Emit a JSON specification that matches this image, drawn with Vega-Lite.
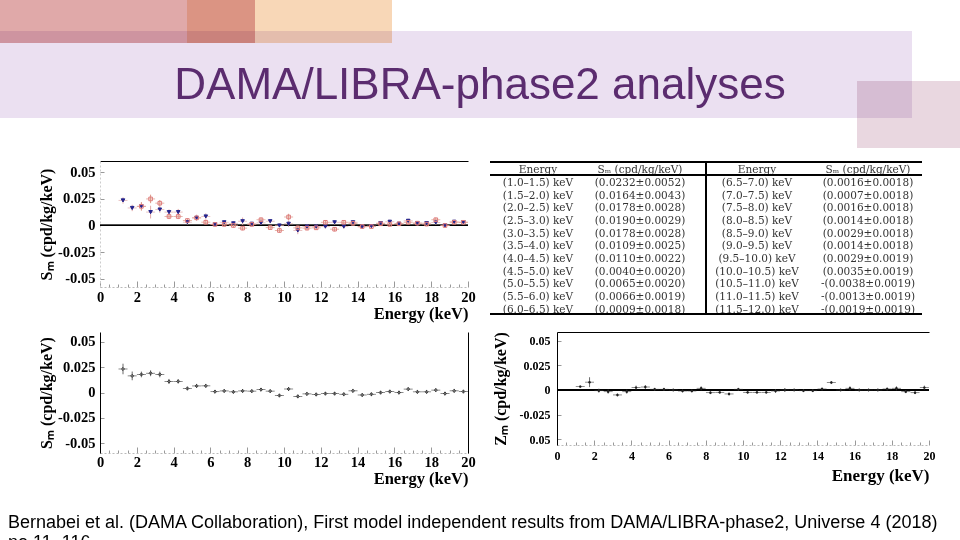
{
  "$schema": "https://vega.github.io/schema/vega-lite/v6.json",
  "padding": 0,
  "background": "white",
  "spacing": 1,
  "config": {"view": {"stroke": null}, "axis": {"grid": false}},
  "title": {
    "text": ["Bernabei et al. (DAMA Collaboration), First model independent results from DAMA/LIBRA-phase2, Universe 4 (2018)", "no.11, 116"],
    "orient": "bottom", "anchor": "start", "frame": "group", "offset": 41, "baseline": "alphabetic",
    "font": "Liberation Sans", "fontSize": 18, "fontWeight": "normal", "color": "#000", "lineHeight": 20, "dx": 8
  },
  "datasets": {
    "deco": [
      {"part": "rose", "x0": 0, "x1": 187, "y0": 0, "y1": 43},
      {"part": "salmon", "x0": 187, "x1": 255, "y0": 0, "y1": 43},
      {"part": "peach", "x0": 255, "x1": 392, "y0": 0, "y1": 43},
      {"part": "lavender", "x0": 0, "x1": 912, "y0": 31, "y1": 118},
      {"part": "pink", "x0": 857, "x1": 960, "y0": 81, "y1": 148}
    ],
    "sm_runs": [
      {"run": "phase2", "e": 1.25, "s": 0.0236, "err": 0.003},
      {"run": "phase2", "e": 1.75, "s": 0.0165, "err": 0.003},
      {"run": "phase2", "e": 2.25, "s": 0.018, "err": 0.0035},
      {"run": "phase2", "e": 2.75, "s": 0.0126, "err": 0.006},
      {"run": "phase2", "e": 3.25, "s": 0.015, "err": 0.003},
      {"run": "phase2", "e": 3.75, "s": 0.0126, "err": 0.0025},
      {"run": "phase2", "e": 4.25, "s": 0.0126, "err": 0.003},
      {"run": "phase2", "e": 4.75, "s": 0.0031, "err": 0.002},
      {"run": "phase2", "e": 5.25, "s": 0.0072, "err": 0.003},
      {"run": "phase2", "e": 5.75, "s": 0.0085, "err": 0.003},
      {"run": "phase2", "e": 6.25, "s": 0.001, "err": 0.002},
      {"run": "phase2", "e": 6.75, "s": 0.003, "err": 0.002},
      {"run": "phase2", "e": 7.25, "s": 0.002, "err": 0.002},
      {"run": "phase2", "e": 7.75, "s": 0.004, "err": 0.0035},
      {"run": "phase2", "e": 8.25, "s": 0.0016, "err": 0.002},
      {"run": "phase2", "e": 8.75, "s": 0.0025, "err": 0.002},
      {"run": "phase2", "e": 9.25, "s": 0.004, "err": 0.002},
      {"run": "phase2", "e": 9.75, "s": 0.0, "err": 0.002},
      {"run": "phase2", "e": 10.25, "s": 0.0016, "err": 0.003},
      {"run": "phase2", "e": 10.75, "s": -0.0047, "err": 0.0035},
      {"run": "phase2", "e": 11.25, "s": -0.001, "err": 0.002},
      {"run": "phase2", "e": 11.75, "s": -0.001, "err": 0.002},
      {"run": "phase2", "e": 12.25, "s": -0.001, "err": 0.002},
      {"run": "phase2", "e": 12.75, "s": 0.003, "err": 0.002},
      {"run": "phase2", "e": 13.25, "s": -0.001, "err": 0.002},
      {"run": "phase2", "e": 13.75, "s": 0.003, "err": 0.002},
      {"run": "phase2", "e": 14.25, "s": -0.0013, "err": 0.002},
      {"run": "phase2", "e": 14.75, "s": -0.0006, "err": 0.002},
      {"run": "phase2", "e": 15.25, "s": 0.0022, "err": 0.002},
      {"run": "phase2", "e": 15.75, "s": 0.0035, "err": 0.002},
      {"run": "phase2", "e": 16.25, "s": 0.0016, "err": 0.002},
      {"run": "phase2", "e": 16.75, "s": 0.0044, "err": 0.002},
      {"run": "phase2", "e": 17.25, "s": 0.0022, "err": 0.002},
      {"run": "phase2", "e": 17.75, "s": 0.0022, "err": 0.002},
      {"run": "phase2", "e": 18.25, "s": 0.0028, "err": 0.002},
      {"run": "phase2", "e": 18.75, "s": 0.0, "err": 0.002},
      {"run": "phase2", "e": 19.25, "s": 0.0035, "err": 0.002},
      {"run": "phase2", "e": 19.75, "s": 0.003, "err": 0.002},
      {"run": "phase1", "e": 2.25, "s": 0.018, "err": 0.004},
      {"run": "phase1", "e": 2.75, "s": 0.025, "err": 0.004},
      {"run": "phase1", "e": 3.25, "s": 0.021, "err": 0.003},
      {"run": "phase1", "e": 3.75, "s": 0.0085, "err": 0.0025},
      {"run": "phase1", "e": 4.25, "s": 0.0085, "err": 0.0025},
      {"run": "phase1", "e": 4.75, "s": 0.0047, "err": 0.002},
      {"run": "phase1", "e": 5.25, "s": 0.0072, "err": 0.002},
      {"run": "phase1", "e": 5.75, "s": 0.0031, "err": 0.002},
      {"run": "phase1", "e": 6.25, "s": 0.001, "err": 0.002},
      {"run": "phase1", "e": 6.75, "s": 0.001, "err": 0.002},
      {"run": "phase1", "e": 7.25, "s": 0.0, "err": 0.002},
      {"run": "phase1", "e": 7.75, "s": -0.0025, "err": 0.002},
      {"run": "phase1", "e": 8.25, "s": 0.001, "err": 0.002},
      {"run": "phase1", "e": 8.75, "s": 0.0054, "err": 0.002},
      {"run": "phase1", "e": 9.25, "s": -0.002, "err": 0.002},
      {"run": "phase1", "e": 9.75, "s": -0.0047, "err": 0.002},
      {"run": "phase1", "e": 10.25, "s": 0.008, "err": 0.003},
      {"run": "phase1", "e": 10.75, "s": -0.0022, "err": 0.002},
      {"run": "phase1", "e": 11.25, "s": -0.0025, "err": 0.002},
      {"run": "phase1", "e": 11.75, "s": -0.0022, "err": 0.002},
      {"run": "phase1", "e": 12.25, "s": 0.003, "err": 0.002},
      {"run": "phase1", "e": 12.75, "s": -0.0035, "err": 0.002},
      {"run": "phase1", "e": 13.25, "s": 0.003, "err": 0.002},
      {"run": "phase1", "e": 13.75, "s": 0.002, "err": 0.002},
      {"run": "phase1", "e": 14.25, "s": -0.001, "err": 0.002},
      {"run": "phase1", "e": 14.75, "s": -0.001, "err": 0.002},
      {"run": "phase1", "e": 15.25, "s": 0.0016, "err": 0.002},
      {"run": "phase1", "e": 15.75, "s": 0.001, "err": 0.002},
      {"run": "phase1", "e": 16.25, "s": 0.0016, "err": 0.002},
      {"run": "phase1", "e": 16.75, "s": 0.003, "err": 0.002},
      {"run": "phase1", "e": 17.25, "s": 0.0022, "err": 0.002},
      {"run": "phase1", "e": 17.75, "s": 0.0013, "err": 0.002},
      {"run": "phase1", "e": 18.25, "s": 0.0054, "err": 0.002},
      {"run": "phase1", "e": 18.75, "s": 0.0, "err": 0.002},
      {"run": "phase1", "e": 19.25, "s": 0.003, "err": 0.002},
      {"run": "phase1", "e": 19.75, "s": 0.003, "err": 0.002}
    ],
    "sm_all": [
      {"e": 1.25, "s": 0.0232, "err": 0.0052},
      {"e": 1.75, "s": 0.0164, "err": 0.0043},
      {"e": 2.25, "s": 0.0178, "err": 0.0028},
      {"e": 2.75, "s": 0.019, "err": 0.0029},
      {"e": 3.25, "s": 0.0178, "err": 0.0028},
      {"e": 3.75, "s": 0.0109, "err": 0.0025},
      {"e": 4.25, "s": 0.011, "err": 0.0022},
      {"e": 4.75, "s": 0.004, "err": 0.002},
      {"e": 5.25, "s": 0.0065, "err": 0.002},
      {"e": 5.75, "s": 0.0066, "err": 0.0019},
      {"e": 6.25, "s": 0.0009, "err": 0.0018},
      {"e": 6.75, "s": 0.0016, "err": 0.0018},
      {"e": 7.25, "s": 0.0007, "err": 0.0018},
      {"e": 7.75, "s": 0.0016, "err": 0.0018},
      {"e": 8.25, "s": 0.0014, "err": 0.0018},
      {"e": 8.75, "s": 0.0029, "err": 0.0018},
      {"e": 9.25, "s": 0.0014, "err": 0.0018},
      {"e": 9.75, "s": -0.0029, "err": 0.0019},
      {"e": 10.25, "s": 0.0035, "err": 0.0019},
      {"e": 10.75, "s": -0.0038, "err": 0.0019},
      {"e": 11.25, "s": -0.0013, "err": 0.0019},
      {"e": 11.75, "s": -0.0019, "err": 0.0019},
      {"e": 12.25, "s": -0.001, "err": 0.0019},
      {"e": 12.75, "s": -0.001, "err": 0.0019},
      {"e": 13.25, "s": -0.0017, "err": 0.0019},
      {"e": 13.75, "s": 0.0017, "err": 0.0019},
      {"e": 14.25, "s": -0.0024, "err": 0.0019},
      {"e": 14.75, "s": -0.0017, "err": 0.0019},
      {"e": 15.25, "s": 0.0, "err": 0.0019},
      {"e": 15.75, "s": 0.001, "err": 0.0019},
      {"e": 16.25, "s": 0.0, "err": 0.0019},
      {"e": 16.75, "s": 0.0034, "err": 0.0019},
      {"e": 17.25, "s": 0.0007, "err": 0.0019},
      {"e": 17.75, "s": 0.0007, "err": 0.0019},
      {"e": 18.25, "s": 0.0024, "err": 0.0019},
      {"e": 18.75, "s": -0.001, "err": 0.0019},
      {"e": 19.25, "s": 0.0017, "err": 0.0019},
      {"e": 19.75, "s": 0.001, "err": 0.0019}
    ],
    "zm": [
      {"e": 1.25, "z": 0.0034, "err": 0.0012},
      {"e": 1.75, "z": 0.0079, "err": 0.005},
      {"e": 2.25, "z": -0.0007, "err": 0.002},
      {"e": 2.75, "z": -0.0017, "err": 0.002},
      {"e": 3.25, "z": -0.005, "err": 0.0015},
      {"e": 3.75, "z": -0.0017, "err": 0.002},
      {"e": 4.25, "z": 0.0024, "err": 0.002},
      {"e": 4.75, "z": 0.003, "err": 0.002},
      {"e": 5.25, "z": 0.0007, "err": 0.0015},
      {"e": 5.75, "z": 0.0007, "err": 0.0015},
      {"e": 6.25, "z": 0.0, "err": 0.0015},
      {"e": 6.75, "z": -0.001, "err": 0.0015},
      {"e": 7.25, "z": -0.001, "err": 0.0015},
      {"e": 7.75, "z": 0.0017, "err": 0.002},
      {"e": 8.25, "z": -0.0027, "err": 0.0015},
      {"e": 8.75, "z": -0.0024, "err": 0.0015},
      {"e": 9.25, "z": -0.004, "err": 0.0015},
      {"e": 9.75, "z": 0.0007, "err": 0.0015},
      {"e": 10.25, "z": -0.0024, "err": 0.0015},
      {"e": 10.75, "z": -0.0024, "err": 0.0015},
      {"e": 11.25, "z": -0.0024, "err": 0.0015},
      {"e": 11.75, "z": -0.001, "err": 0.002},
      {"e": 12.25, "z": 0.0, "err": 0.002},
      {"e": 12.75, "z": 0.0, "err": 0.0015},
      {"e": 13.25, "z": -0.0007, "err": 0.0015},
      {"e": 13.75, "z": -0.0007, "err": 0.0015},
      {"e": 14.25, "z": 0.001, "err": 0.0015},
      {"e": 14.75, "z": 0.0075, "err": 0.0015},
      {"e": 15.25, "z": 0.0, "err": 0.0015},
      {"e": 15.75, "z": 0.0017, "err": 0.002},
      {"e": 16.25, "z": 0.0, "err": 0.0015},
      {"e": 16.75, "z": 0.0, "err": 0.0015},
      {"e": 17.25, "z": 0.0, "err": 0.0015},
      {"e": 17.75, "z": 0.001, "err": 0.0015},
      {"e": 18.25, "z": 0.0017, "err": 0.002},
      {"e": 18.75, "z": -0.0017, "err": 0.0015},
      {"e": 19.25, "z": -0.0027, "err": 0.0015},
      {"e": 19.75, "z": 0.0024, "err": 0.002}
    ],
    "table": [
      {"row": 0, "e1": "Energy", "s1": "Sₘ (cpd/kg/keV)", "e2": "Energy", "s2": "Sₘ (cpd/kg/keV)"},
      {"row": 1, "e1": "(1.0–1.5) keV", "s1": "(0.0232±0.0052)", "e2": "(6.5–7.0) keV", "s2": "(0.0016±0.0018)"},
      {"row": 2, "e1": "(1.5–2.0) keV", "s1": "(0.0164±0.0043)", "e2": "(7.0–7.5) keV", "s2": "(0.0007±0.0018)"},
      {"row": 3, "e1": "(2.0–2.5) keV", "s1": "(0.0178±0.0028)", "e2": "(7.5–8.0) keV", "s2": "(0.0016±0.0018)"},
      {"row": 4, "e1": "(2.5–3.0) keV", "s1": "(0.0190±0.0029)", "e2": "(8.0–8.5) keV", "s2": "(0.0014±0.0018)"},
      {"row": 5, "e1": "(3.0–3.5) keV", "s1": "(0.0178±0.0028)", "e2": "(8.5–9.0) keV", "s2": "(0.0029±0.0018)"},
      {"row": 6, "e1": "(3.5–4.0) keV", "s1": "(0.0109±0.0025)", "e2": "(9.0–9.5) keV", "s2": "(0.0014±0.0018)"},
      {"row": 7, "e1": "(4.0–4.5) keV", "s1": "(0.0110±0.0022)", "e2": "(9.5–10.0) keV", "s2": "(0.0029±0.0019)"},
      {"row": 8, "e1": "(4.5–5.0) keV", "s1": "(0.0040±0.0020)", "e2": "(10.0–10.5) keV", "s2": "(0.0035±0.0019)"},
      {"row": 9, "e1": "(5.0–5.5) keV", "s1": "(0.0065±0.0020)", "e2": "(10.5–11.0) keV", "s2": "-(0.0038±0.0019)"},
      {"row": 10, "e1": "(5.5–6.0) keV", "s1": "(0.0066±0.0019)", "e2": "(11.0–11.5) keV", "s2": "-(0.0013±0.0019)"},
      {"row": 11, "e1": "(6.0–6.5) keV", "s1": "(0.0009±0.0018)", "e2": "(11.5–12.0) keV", "s2": "-(0.0019±0.0019)"}
    ]
  },
  "vconcat": [
    {
      "width": 960, "height": 159,
      "data": {"name": "deco"},
      "layer": [
        {
          "mark": {"type": "rect", "blend": "multiply"},
          "encoding": {
            "x": {"field": "x0", "type": "quantitative", "scale": {"domain": [0, 960], "nice": false, "zero": false}, "axis": null},
            "x2": {"field": "x1"},
            "y": {"field": "y0", "type": "quantitative", "scale": {"domain": [0, 159], "reverse": true, "nice": false, "zero": false}, "axis": null},
            "y2": {"field": "y1"},
            "color": {"field": "part", "type": "nominal", "legend": null,
              "scale": {"domain": ["rose", "salmon", "peach", "lavender", "pink"], "range": ["#e0a9a9", "#db9483", "#f8d7b7", "#ebe0f1", "#e9d7e0"]}}
          }
        },
        {
          "data": {"values": [{"title": "DAMA/LIBRA-phase2 analyses"}]},
          "mark": {"type": "text", "font": "Liberation Sans", "fontSize": 44, "color": "#5b2c6f", "baseline": "alphabetic", "dy": 19},
          "encoding": {"text": {"field": "title"}}
        }
      ]
    },
    {
      "bounds": "flush",
      "spacing": 22,
      "hconcat": [
        {"width": 78, "height": 169, "data": {"values": [{}]}, "mark": {"type": "point", "opacity": 0}},
        {
          "width": 368, "height": 126,
          "data": {"name": "sm_runs"},
          "resolve": {"axis": {"x": "independent", "y": "independent"}},
          "layer": [
            {
              "mark": {"type": "rule", "color": "#000", "strokeWidth": 1},
              "encoding": {"y": {"datum": 0, "type": "quantitative", "axis": null}}
            },
            {
              "mark": {"type": "errorbar", "ticks": false, "thickness": 1},
              "encoding": {
                "x": {"field": "e", "type": "quantitative", "axis": {"orient": "top", "title": null, "labels": false, "ticks": false, "domain": true, "domainColor": "#000", "domainWidth": 1}},
                "y": {"field": "s", "type": "quantitative", "axis": null},
                "yError": {"field": "err"},
                "color": {"field": "run", "type": "nominal", "legend": null, "scale": {"domain": ["phase2", "phase1"], "range": ["#23238c", "#de7a7a"]}}
              }
            },
            {
              "mark": {"type": "tick", "orient": "horizontal", "size": 9, "thickness": 1},
              "encoding": {
                "x": {"field": "e", "type": "quantitative", "axis": {"orient": "bottom", "values": [0.5, 1, 1.5, 2.5, 3, 3.5, 4.5, 5, 5.5, 6.5, 7, 7.5, 8.5, 9, 9.5, 10.5, 11, 11.5, 12.5, 13, 13.5, 14.5, 15, 15.5, 16.5, 17, 17.5, 18.5, 19, 19.5], "labels": false, "title": null, "domain": false, "tickSize": -3, "tickColor": "#999"}},
                "y": {"field": "s", "type": "quantitative", "axis": null},
                "color": {"field": "run", "type": "nominal", "legend": null}
              }
            },
            {
              "mark": {"type": "point", "size": 13, "strokeWidth": 1, "opacity": 1},
              "encoding": {
                "x": {"field": "e", "type": "quantitative", "scale": {"domain": [0, 20], "nice": false, "zero": false},
                  "axis": {"orient": "bottom", "values": [0, 2, 4, 6, 8, 10, 12, 14, 16, 18, 20], "format": "d", "title": "Energy (keV)", "titleAnchor": "end", "titleFont": "Liberation Serif", "titleFontWeight": "bold", "titleFontSize": 16.5, "titleColor": "#000", "titlePadding": 2, "labelFont": "Liberation Serif", "labelFontWeight": "bold", "labelFontSize": 14.5, "labelColor": "#000", "labelPadding": 9, "labelFlush": false, "labelOverlap": false, "tickSize": -6, "tickColor": "#999", "domainColor": "#bbb", "domainDash": [2, 2]}},
                "y": {"field": "s", "type": "quantitative", "scale": {"domain": [-0.0579, 0.0607], "nice": false, "zero": false},
                  "axis": {"orient": "left", "values": [-0.05, -0.025, 0, 0.025, 0.05], "labelExpr": "datum.value === 0 ? '0' : (datum.value < 0 ? '-' : '') + format(abs(datum.value), '~g')", "title": "Sₘ (cpd/kg/keV)", "titleFont": "Liberation Serif", "titleFontWeight": "bold", "titleFontSize": 16, "titleColor": "#000", "titlePadding": 3, "labelFont": "Liberation Serif", "labelFontWeight": "bold", "labelFontSize": 14.5, "labelColor": "#000", "labelPadding": 9, "tickSize": -4, "tickColor": "#999", "domainColor": "#ccc", "domainDash": [2, 2]}},
                "shape": {"field": "run", "type": "nominal", "legend": null, "scale": {"domain": ["phase2", "phase1"], "range": ["triangle-down", "square"]}},
                "stroke": {"field": "run", "type": "nominal", "legend": null, "scale": {"domain": ["phase2", "phase1"], "range": ["#23238c", "#de7a7a"]}},
                "fill": {"field": "run", "type": "nominal", "legend": null, "scale": {"domain": ["phase2", "phase1"], "range": ["#23238c", "transparent"]}}
              }
            }
          ]
        },
        {
          "width": 432, "height": 154,
          "data": {"name": "table"},
          "layer": [
            {
              "mark": {"type": "text", "font": "DejaVu Serif", "fontSize": 10.5, "color": "#333", "dx": -6, "dy": 2},
              "encoding": {
                "x": {"datum": "c1", "type": "nominal", "scale": {"type": "band", "domain": ["c1", "c2", "c3", "c4"], "paddingInner": 0, "paddingOuter": 0}, "axis": null},
                "y": {"field": "row", "type": "ordinal", "scale": {"type": "band", "domain": [0, 1, 2, 3, 4, 5, 6, 7, 8, 9, 10, 11], "paddingInner": 0, "paddingOuter": 0.09}, "axis": null},
                "text": {"field": "e1"}
              }
            },
            {
              "mark": {"type": "text", "font": "DejaVu Serif", "fontSize": 10.5, "color": "#333", "dx": -12, "dy": 2},
              "encoding": {"x": {"datum": "c2", "type": "nominal"}, "y": {"field": "row", "type": "ordinal"}, "text": {"field": "s1"}}
            },
            {
              "mark": {"type": "text", "font": "DejaVu Serif", "fontSize": 10.5, "color": "#333", "dx": -3, "dy": 2},
              "encoding": {"x": {"datum": "c3", "type": "nominal"}, "y": {"field": "row", "type": "ordinal"}, "text": {"field": "e2"}}
            },
            {
              "mark": {"type": "text", "font": "DejaVu Serif", "fontSize": 10.5, "color": "#333", "dx": 0, "dy": 2},
              "encoding": {"x": {"datum": "c4", "type": "nominal"}, "y": {"field": "row", "type": "ordinal"}, "text": {"field": "s2"}}
            },
            {"mark": {"type": "rule", "color": "#000", "strokeWidth": 1}, "encoding": {"y": {"datum": 0, "type": "ordinal", "bandPosition": 0}}},
            {"mark": {"type": "rule", "color": "#000", "strokeWidth": 1}, "encoding": {"y": {"datum": 1, "type": "ordinal", "bandPosition": 0}}},
            {"mark": {"type": "rule", "color": "#000", "strokeWidth": 1}, "encoding": {"y": {"datum": 11, "type": "ordinal", "bandPosition": 1}}},
            {"mark": {"type": "rule", "color": "#000", "strokeWidth": 1}, "encoding": {"x": {"datum": "c3", "type": "nominal", "bandPosition": 0}}}
          ]
        }
      ]
    },
    {
      "bounds": "flush",
      "spacing": 89,
      "hconcat": [
        {"width": 11, "height": 10, "data": {"values": [{}]}, "mark": {"type": "point", "opacity": 0}},
        {
          "width": 368, "height": 121,
          "data": {"name": "sm_all"},
          "resolve": {"axis": {"x": "independent", "y": "independent"}},
          "layer": [
            {
              "mark": {"type": "errorbar", "ticks": false, "thickness": 0.8, "color": "#444"},
              "encoding": {
                "x": {"field": "e", "type": "quantitative", "axis": null},
                "y": {"field": "s", "type": "quantitative", "axis": {"orient": "right", "title": null, "labels": false, "ticks": false, "domain": true, "domainColor": "#000"}},
                "yError": {"field": "err"}
              }
            },
            {
              "mark": {"type": "tick", "orient": "horizontal", "size": 9, "thickness": 0.8, "color": "#333"},
              "encoding": {
                "x": {"field": "e", "type": "quantitative", "axis": {"orient": "bottom", "values": [0.5, 1, 1.5, 2.5, 3, 3.5, 4.5, 5, 5.5, 6.5, 7, 7.5, 8.5, 9, 9.5, 10.5, 11, 11.5, 12.5, 13, 13.5, 14.5, 15, 15.5, 16.5, 17, 17.5, 18.5, 19, 19.5], "labels": false, "title": null, "domain": false, "tickSize": -3, "tickColor": "#999"}},
                "y": {"field": "s", "type": "quantitative", "axis": null}
              }
            },
            {
              "mark": {"type": "point", "shape": "diamond", "size": 10, "strokeWidth": 0.8, "color": "#222", "opacity": 1},
              "encoding": {
                "x": {"field": "e", "type": "quantitative", "scale": {"domain": [0, 20], "nice": false, "zero": false},
                  "axis": {"orient": "bottom", "values": [0, 2, 4, 6, 8, 10, 12, 14, 16, 18, 20], "format": "d", "title": "Energy (keV)", "titleAnchor": "end", "titleFont": "Liberation Serif", "titleFontWeight": "bold", "titleFontSize": 16.5, "titleColor": "#000", "titlePadding": 2, "labelFont": "Liberation Serif", "labelFontWeight": "bold", "labelFontSize": 14.5, "labelColor": "#000", "labelPadding": 8, "labelFlush": false, "labelOverlap": false, "tickSize": -6, "tickColor": "#999", "domainColor": "#bbb", "domainDash": [2, 2]}},
                "y": {"field": "s", "type": "quantitative", "scale": {"domain": [-0.0595, 0.0596], "nice": false, "zero": false},
                  "axis": {"orient": "left", "values": [-0.05, -0.025, 0, 0.025, 0.05], "labelExpr": "datum.value === 0 ? '0' : (datum.value < 0 ? '-' : '') + format(abs(datum.value), '~g')", "title": "Sₘ (cpd/kg/keV)", "titleFont": "Liberation Serif", "titleFontWeight": "bold", "titleFontSize": 16, "titleColor": "#000", "titlePadding": 3, "labelFont": "Liberation Serif", "labelFontWeight": "bold", "labelFontSize": 14.5, "labelColor": "#000", "labelPadding": 9, "tickSize": -4, "tickColor": "#999", "domainColor": "#000"}}
              }
            }
          ]
        },
        {
          "width": 372, "height": 113,
          "data": {"name": "zm"},
          "resolve": {"axis": {"x": "independent", "y": "independent"}},
          "layer": [
            {
              "mark": {"type": "rule", "color": "#000", "strokeWidth": 1},
              "encoding": {"y": {"datum": 0, "type": "quantitative", "axis": null}}
            },
            {
              "mark": {"type": "errorbar", "ticks": false, "thickness": 0.8, "color": "#444"},
              "encoding": {
                "x": {"field": "e", "type": "quantitative", "axis": {"orient": "top", "title": null, "labels": false, "ticks": false, "domain": true, "domainColor": "#000"}},
                "y": {"field": "z", "type": "quantitative", "axis": null},
                "yError": {"field": "err"}
              }
            },
            {
              "mark": {"type": "tick", "orient": "horizontal", "size": 9, "thickness": 0.8, "color": "#333"},
              "encoding": {
                "x": {"field": "e", "type": "quantitative", "axis": {"orient": "bottom", "values": [0.5, 1, 1.5, 2.5, 3, 3.5, 4.5, 5, 5.5, 6.5, 7, 7.5, 8.5, 9, 9.5, 10.5, 11, 11.5, 12.5, 13, 13.5, 14.5, 15, 15.5, 16.5, 17, 17.5, 18.5, 19, 19.5], "labels": false, "title": null, "domain": false, "tickSize": -3, "tickColor": "#999"}},
                "y": {"field": "z", "type": "quantitative", "axis": null}
              }
            },
            {
              "mark": {"type": "point", "shape": "circle", "size": 6, "filled": true, "color": "#222", "opacity": 1},
              "encoding": {
                "x": {"field": "e", "type": "quantitative", "scale": {"domain": [0, 20], "nice": false, "zero": false},
                  "axis": {"orient": "bottom", "values": [0, 2, 4, 6, 8, 10, 12, 14, 16, 18, 20], "format": "d", "title": "Energy (keV)", "titleAnchor": "end", "titleFont": "Liberation Serif", "titleFontWeight": "bold", "titleFontSize": 17, "titleColor": "#000", "titlePadding": 6, "labelFont": "Liberation Serif", "labelFontWeight": "bold", "labelFontSize": 12, "labelColor": "#000", "labelPadding": 10, "labelFlush": false, "labelOverlap": false, "tickSize": -5, "tickColor": "#999", "domainColor": "#bbb", "domainDash": [2, 2]}},
                "y": {"field": "z", "type": "quantitative", "scale": {"domain": [-0.0556, 0.0586], "nice": false, "zero": false},
                  "axis": {"orient": "left", "values": [-0.05, -0.025, 0, 0.025, 0.05], "labelExpr": "datum.value === 0 ? '0' : (datum.value < -0.03 ? '' : datum.value < 0 ? '-' : '') + format(abs(datum.value), '~g')", "title": "Zₘ (cpd/kg/keV)", "titleFont": "Liberation Serif", "titleFontWeight": "bold", "titleFontSize": 16, "titleColor": "#000", "titlePadding": 11, "labelFont": "Liberation Serif", "labelFontWeight": "bold", "labelFontSize": 12, "labelColor": "#000", "labelPadding": 11, "tickSize": -4, "tickColor": "#999", "domainColor": "#000"}}
              }
            }
          ]
        }
      ]
    }
  ]
}
